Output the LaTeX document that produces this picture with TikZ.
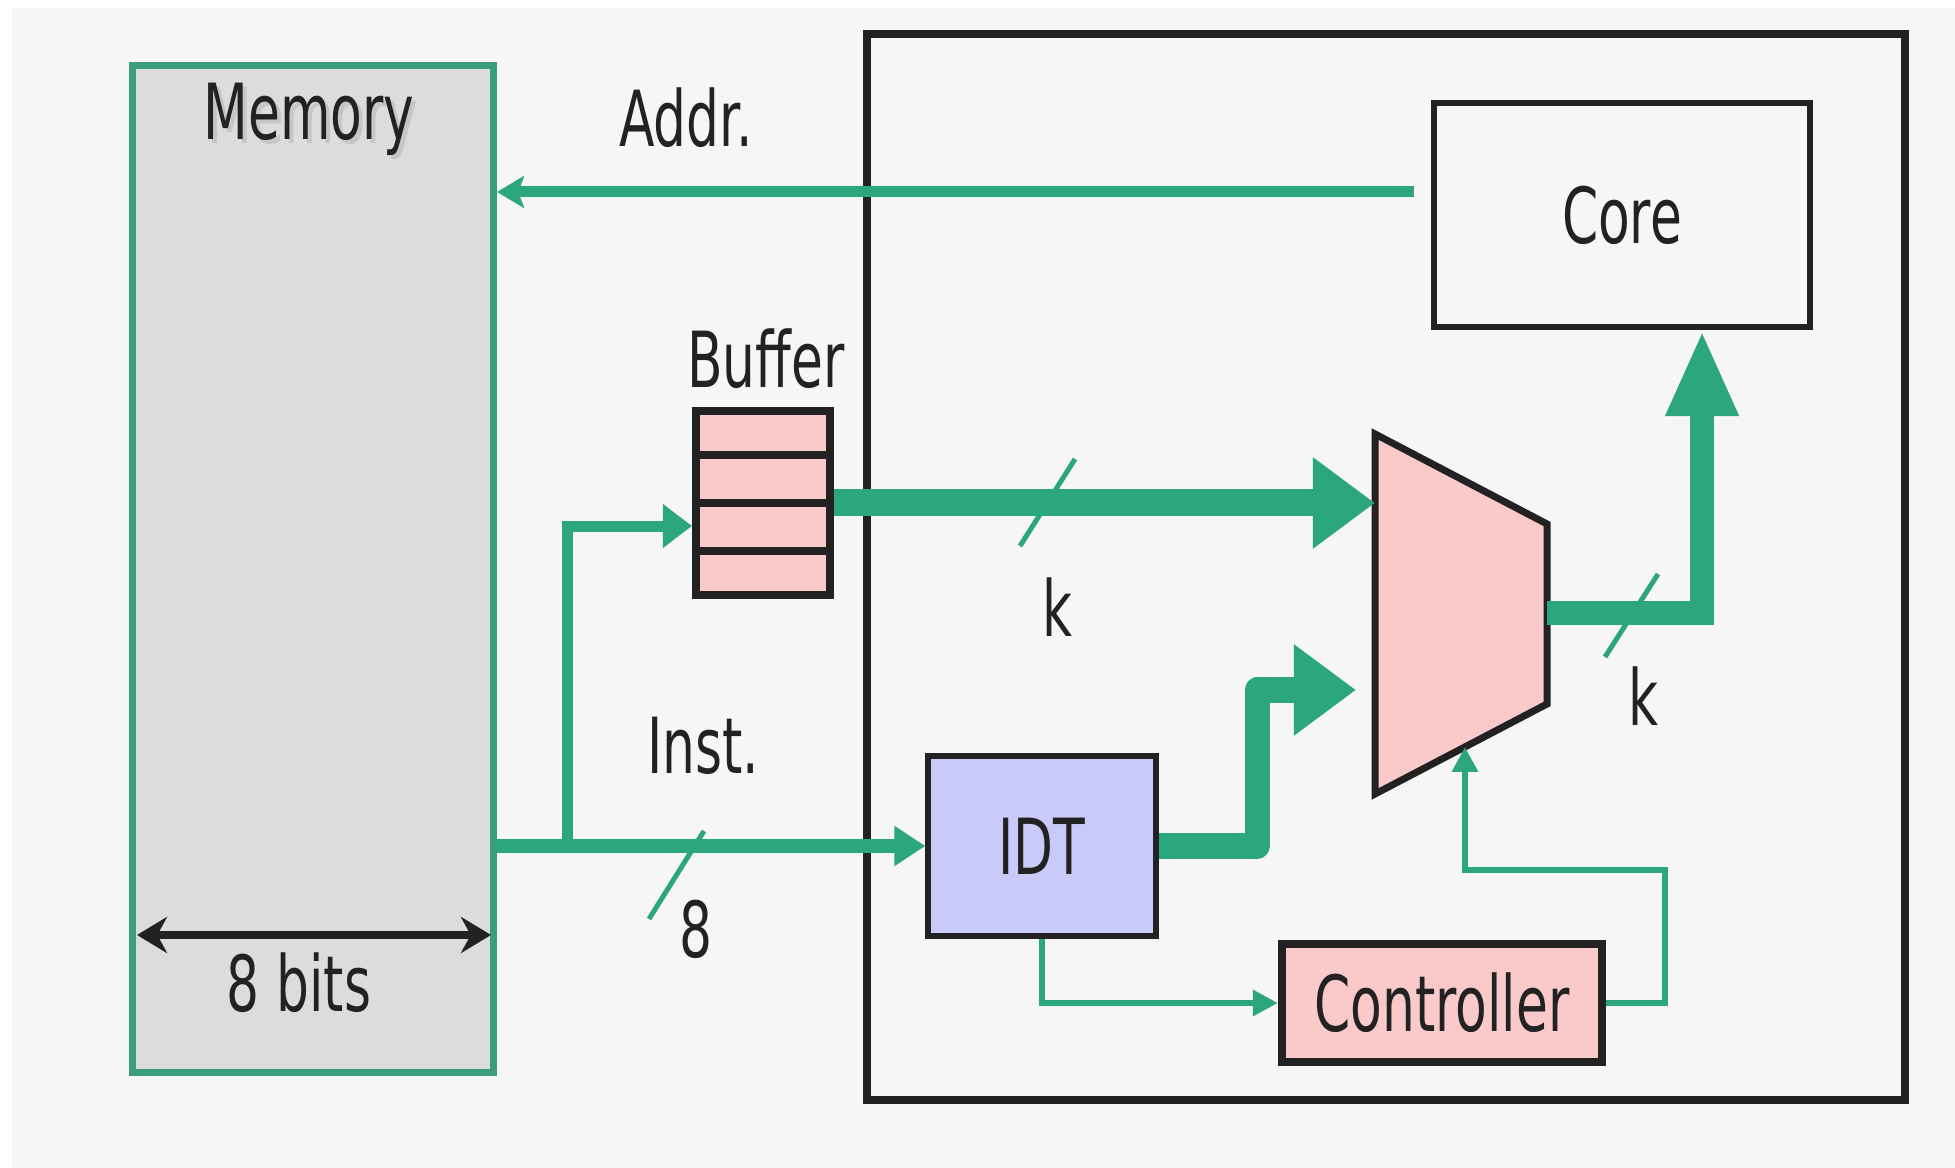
\documentclass[tikz,border=0pt]{standalone}
\usepackage{fontspec}
\setmainfont{DejaVu Sans}[FakeStretch=0.67]
\usetikzlibrary{arrows.meta, positioning, calc}

\definecolor{busgreen}{RGB}{44,166,124}
\definecolor{memgreen}{RGB}{58,158,125}
\definecolor{cellpink}{RGB}{250,202,202}
\definecolor{idtblue}{RGB}{202,202,250}
\definecolor{memgray}{RGB}{220,220,220}
\definecolor{bggray}{RGB}{246,246,246}
\definecolor{inkgray}{RGB}{34,34,34}

\newcommand{\shadowed}[1]{\makebox[0pt][l]{\hspace{0.04cm}\raisebox{-0.04cm}{\color{gray!45}#1}}#1}

\begin{document}
\begin{tikzpicture}[
    x=0.01cm, y=-0.01cm,
    font=\fontsize{22}{26}\selectfont, text=inkgray,
    box/.style={draw=inkgray, line width=0.06cm, inner sep=0pt},
    addrbus/.style={busgreen, line width=0.11cm, -{Stealth[length=0.27cm, width=0.32cm, inset=0.06cm]}},
    instbus/.style={busgreen, line width=0.13cm, -{Triangle[length=0.31cm, width=0.38cm]}},
    branchbus/.style={busgreen, line width=0.11cm, -{Triangle[length=0.29cm, width=0.42cm]}},
    widebus/.style={busgreen, line width=0.27cm, line join=round, -{Triangle[length=0.62cm, width=0.87cm]}},
    thinbus/.style={busgreen, line width=0.06cm, -{Triangle[length=0.25cm, width=0.25cm]}},
    slash/.style={busgreen, line width=0.05cm},
]
    % background
    \useasboundingbox (0,0) rectangle (1955,1168);
    \fill[white] (0,0) rectangle (1955,1168);
    \fill[bggray] (12,8) rectangle (1955,1168);

    % memory side
    \node[draw=memgreen, fill=memgray, line width=0.07cm, minimum width=3.61cm, minimum height=10.06cm] (mem) at (313,569) {};
    \node (memlbl) at (309,121) {\shadowed{Memory}};
    \coordinate (bitsL) at (137,935);
    \coordinate (bitsR) at (491,935);
    \draw[inkgray, line width=0.08cm, {Stealth[length=0.3cm, width=0.36cm]}-{Stealth[length=0.3cm, width=0.36cm]}] (bitsL) -- (bitsR);
    \node (bitslbl) at (299,983) {8 bits};

    % chip
    \node[draw=inkgray, line width=0.08cm, minimum width=10.38cm, minimum height=10.65cm] (chip) at (1386,567) {};
    \node[box, minimum width=3.76cm, minimum height=2.24cm] (core) at (1622,215) {Core};
    \node[box, fill=cellpink, line width=0.08cm, minimum width=1.34cm, minimum height=1.84cm] (buf) at (763,503) {};
    \foreach \i in {1,2,3}
        \draw[inkgray, line width=0.08cm] ($(buf.north west)!\i/4!(buf.south west)$) -- ($(buf.north east)!\i/4!(buf.south east)$);
    \node (buflbl) at (766,359) {Buffer};
    \node[box, fill=idtblue, minimum width=2.27cm, minimum height=1.79cm] (idt) at (1042,846) {IDT};
    \node[box, fill=cellpink, line width=0.08cm, minimum width=3.2cm, minimum height=1.17cm] (ctrl) at (1442,1003) {Controller};

    % mux
    \coordinate (muxnw) at (1375,434);
    \coordinate (muxne) at (1547,524);
    \coordinate (muxse) at (1547,704);
    \coordinate (muxsw) at (1375,794);
    \draw[inkgray, fill=cellpink, line width=0.07cm] (muxnw) -- (muxne) -- (muxse) -- (muxsw) -- cycle;
    \coordinate (muxsel) at ($(muxsw)!0.523!(muxse)$);
    \coordinate (muxout) at (1547,613);

    % connectors
    \coordinate (addrsrc) at (1414,192);
    \draw[addrbus] (addrsrc) -- (addrsrc -| mem.east);
    \node (addrlbl) at (686,118) {Addr.};

    \coordinate (jn) at (567,846);
    \draw[instbus] (mem.east |- idt.west) -- (idt.west);
    \draw[branchbus] (jn) |- ([yshift=-0.23cm]buf.west);
    \draw[slash] (649,919) -- (704,831);
    \node (instlbl) at (703,746) {Inst.};
    \node (eightlbl) at (696,929) {8};

    \draw[widebus] (buf.east) -- (muxnw |- buf.east);
    \draw[slash] (1020,546) -- (1075,459);
    \node (klbl) at (1057,607) {k};

    \coordinate (idtturn) at (1257,690);
    \coordinate (muxin) at (1356,690);
    \draw[widebus, line width=0.25cm] (idt.east) -| (idtturn) -- (muxin);

    \draw[widebus, line width=0.24cm, line join=miter, -{Triangle[length=0.86cm, width=0.67cm]}] (muxout) -| ([xshift=0.8cm]core.south);
    \draw[slash] (1605,657) -- (1658,574);
    \node (koutlbl) at (1643,696) {k};

    \draw[thinbus] (idt.south) |- (ctrl.west);
    \coordinate (ctrlup) at (1665,870);
    \draw[thinbus] (ctrl.east) -| (ctrlup) -| (muxsel);
\end{tikzpicture}
\end{document}
